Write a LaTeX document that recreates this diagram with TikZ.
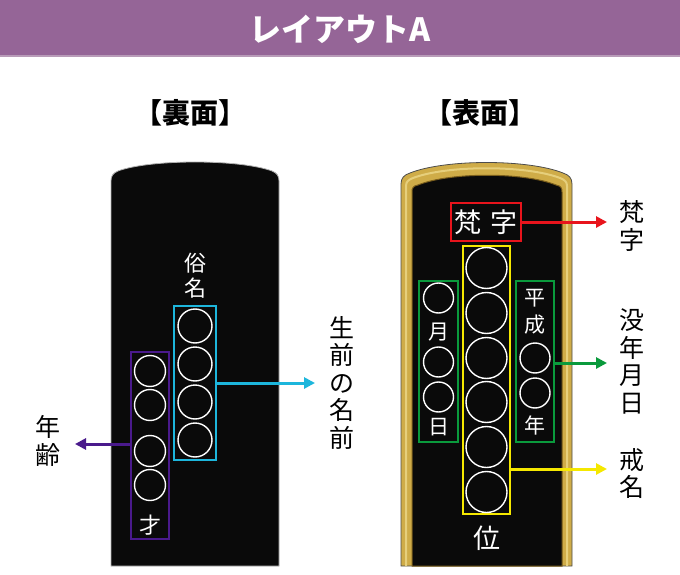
\documentclass[tikz,border=0pt]{standalone}
\usepackage{fontspec}
\setmainfont{Noto Sans CJK JP}
\usetikzlibrary{arrows.meta,calc}
\definecolor{hdr}{HTML}{956597}
\definecolor{hdrl}{HTML}{B89BB8}
\definecolor{tabblack}{HTML}{0A0A0A}
\definecolor{gold}{HTML}{CFAC48}
\definecolor{goldlt}{HTML}{E6CF7C}
\definecolor{golddk}{HTML}{7A5E1C}
\definecolor{cyanc}{HTML}{1DB6DC}
\definecolor{purp}{HTML}{4A1A8C}
\definecolor{redc}{HTML}{E8141C}
\definecolor{greenc}{HTML}{0A9A3C}
\definecolor{yell}{HTML}{F5E800}
\tikzset{
  circ/.style={draw=white, line width=1.4pt, circle, inner sep=0pt},
  frame/.style={draw=#1, line width=1.6pt, inner sep=0pt},
  arr/.style={draw=#1, line width=3pt, -{Triangle[length=11pt,width=11pt]}},
  wt/.style={text=white, inner sep=0pt, font=\fontsize{#1}{#1}\selectfont},
  lbl/.style={inner sep=0pt, align=center, font=\fontsize{25}{27.5}\selectfont},
}
\begin{document}
\begin{tikzpicture}[x=1pt,y=-1pt]
\useasboundingbox (0,0) rectangle (680,575);
% header
\fill[hdr] (0,0) rectangle (680,55);
\fill[hdrl] (0,55) rectangle (680,57);
\node[text=white, font=\bfseries\fontsize{32}{32}\selectfont] (title) at (340,29) {レイアウトA};
\node[font=\bfseries\fontsize{28}{28}\selectfont] (ura) at (190,113) {【裏面】};
\node[font=\bfseries\fontsize{28}{28}\selectfont] (omote) at (480,113) {【表面】};

% left tablet
\fill[tabblack, draw=gray!60, line width=0.8pt] (111,566) -- (111,181)
  .. controls (111,176) and (113,173) .. (118,171)
  .. controls (150,159) and (240,159) .. (272,171)
  .. controls (277,173) and (279,176) .. (279,181) -- (279,566) -- cycle;

% right tablet
\fill[gold, draw=gray!60!black, line width=0.8pt] (401,566) -- (401,184)
  .. controls (401,178) and (404,175) .. (410,173)
  .. controls (445,159) and (528,159) .. (563,173)
  .. controls (569,175) and (572,178) .. (572,184) -- (572,566) -- cycle;
\draw[goldlt, line width=2pt] (406,566) -- (406,186)
  .. controls (406,182) and (408,180) .. (413,178)
  .. controls (447,165) and (526,165) .. (560,178)
  .. controls (565,180) and (567,182) .. (567,186) -- (567,566);
\fill[tabblack, draw=golddk, line width=1pt] (412,566) -- (412,192)
  .. controls (412,188) and (413,186) .. (418,185)
  .. controls (450,172) and (524,172) .. (556,185)
  .. controls (561,186) and (562,188) .. (562,192) -- (562,566) -- cycle;

% left tablet contents
\node[wt=22] (zoku) at (195,263) {俗};
\node[wt=22] (mei) at (195,288) {名};
\node[frame=cyanc, minimum width=42pt, minimum height=154pt] (cbox) at (195,383) {};
\foreach \y [count=\i] in {326,364,402,440}
  \node[circ, minimum size=34pt] (cc\i) at (195,\y) {};
\node[frame=purp, minimum width=38pt, minimum height=187pt] (pbox) at (150,445.5) {};
\foreach \y [count=\i] in {371,405,451,485}
  \node[circ, minimum size=31pt] (pc\i) at (150,\y) {};
\node[wt=22] (sai) at (150,525) {才};

% right tablet contents
\node[frame=redc, minimum width=70pt, minimum height=38pt] (rbox) at (486,222) {};
\node[wt=27] (bon) at (468,222) {梵};
\node[wt=27] (ji) at (504,222) {字};
\node[frame=yell, minimum width=47pt, minimum height=268pt] (ybox) at (486.5,380) {};
\foreach \y [count=\i] in {268,313,358,402,447,492}
  \node[circ, minimum size=41pt] (yc\i) at (486.5,\y) {};
\node[wt=27] (kurai) at (486.5,538) {位};
\node[frame=greenc, minimum width=39pt, minimum height=161pt] (glbox) at (438.5,361.5) {};
\node[circ, minimum size=30pt] (gl1) at (438.5,298) {};
\node[wt=21] (tsuki) at (438.5,332) {月};
\node[circ, minimum size=30pt] (gl2) at (438.5,362) {};
\node[circ, minimum size=30pt] (gl3) at (438.5,397) {};
\node[wt=21] (hi) at (438.5,427) {日};
\node[frame=greenc, minimum width=38pt, minimum height=161pt] (grbox) at (535,361.5) {};
\node[wt=21] (hei) at (535,298) {平};
\node[wt=21] (sei) at (535,325) {成};
\node[circ, minimum size=30pt] (gr1) at (535,358) {};
\node[circ, minimum size=30pt] (gr2) at (535,393) {};
\node[wt=21] (nen) at (535,425) {年};

% labels
\node[lbl] (seizen) at (342,382.5) {生\\前\\の\\名\\前};
\node[lbl] (nenrei) at (48,441) {年\\齢};
\node[lbl] (bonji) at (632,226) {梵\\字};
\node[lbl] (botsu) at (632,361.5) {没\\年\\月\\日};
\node[lbl] (kaimyo) at (632,473.5) {戒\\名};

% arrows
\coordinate (ct) at (315,383);
\coordinate (pt) at (75,444);
\coordinate (rt) at (607,222);
\coordinate (gt) at (607,363);
\coordinate (yt) at (607,469);
\draw[arr=cyanc] (cbox.east |- ct) -- (ct);
\draw[arr=purp] (pbox.west |- pt) -- (pt);
\draw[arr=redc] (rbox.east |- rt) -- (rt);
\draw[arr=greenc] (grbox.east |- gt) -- (gt);
\draw[arr=yell] (ybox.east |- yt) -- (yt);
\end{tikzpicture}
\end{document}
